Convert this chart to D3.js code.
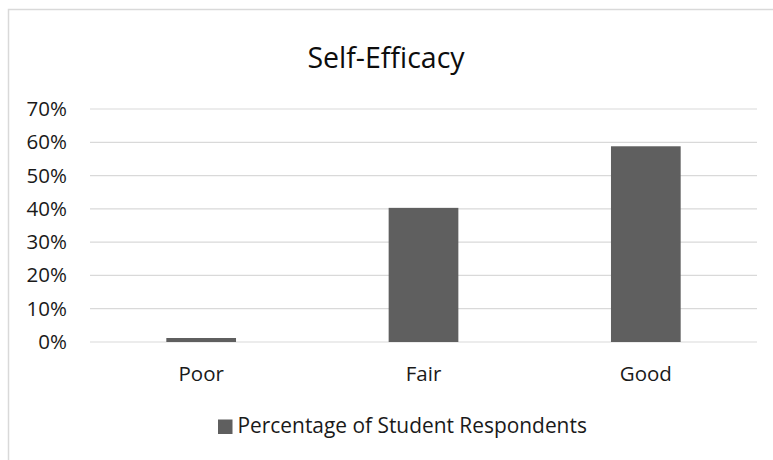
<!DOCTYPE html>
<html>
<head>
<meta charset="utf-8">
<script src="https://cdn.jsdelivr.net/npm/d3@7"></script>
<style>
  body { margin: 0; background: #fff; }
  text { font-family: "Open Sans", sans-serif; }
</style>
</head>
<body>
<div id="chart"></div>
<script>
const title = "Self-Efficacy";
const categories = ["Poor", "Fair", "Good"];
const values = [0.012, 0.403, 0.588];
const yTicks = [0, 0.1, 0.2, 0.3, 0.4, 0.5, 0.6, 0.7];
const seriesName = "Percentage of Student Respondents";

const W = 773, H = 460;
const margin = { top: 109, right: 16, bottom: 118, left: 90 },
      width = W - margin.left - margin.right,
      height = H - margin.top - margin.bottom;

const svg = d3.select("#chart")
    .append("svg")
    .attr("width", W)
    .attr("height", H);

// chart border (runs off the right/bottom edge like the screenshot)
svg.append("rect")
    .attr("x", 8.5).attr("y", 9.5)
    .attr("width", W + 20).attr("height", H + 20)
    .attr("fill", "#fff")
    .attr("stroke", "#d9d9d9")
    .attr("stroke-width", 1.5);

const g = svg.append("g")
    .attr("transform", `translate(${margin.left},${margin.top})`);

const x = d3.scaleBand()
    .domain(categories)
    .range([0, width])
    .paddingInner(0.6865)
    .paddingOuter(0.3433);

const y = d3.scaleLinear()
    .domain([0, 0.7])
    .range([height, 0]);

// gridlines
g.append("g")
    .selectAll("line")
    .data(yTicks)
    .join("line")
    .attr("x1", 0).attr("x2", width)
    .attr("y1", d => y(d)).attr("y2", d => y(d))
    .attr("stroke", "#d9d9d9")
    .attr("stroke-width", 1.2);

// y axis labels
const yAxis = g.append("g")
    .call(d3.axisLeft(y).tickValues(yTicks).tickFormat(d3.format(".0%")).tickSize(0).tickPadding(23));
yAxis.select(".domain").remove();
yAxis.selectAll("text")
    .style("font-size", "20.5px")
    .style("font-family", "'Open Sans', sans-serif")
    .attr("fill", "#1a1a1a");

// bars
g.selectAll("rect.bar")
    .data(values)
    .join("rect")
    .attr("class", "bar")
    .attr("x", (d, i) => x(categories[i]))
    .attr("width", x.bandwidth())
    .attr("y", d => y(d))
    .attr("height", d => y(0) - y(d))
    .attr("fill", "#5f5f5f");

// x axis labels
const xAxis = g.append("g")
    .attr("transform", `translate(0,${height})`)
    .call(d3.axisBottom(x).tickSize(0).tickPadding(24));
xAxis.select(".domain").remove();
xAxis.selectAll("text")
    .style("font-size", "20.5px")
    .style("font-family", "'Open Sans', sans-serif")
    .attr("fill", "#1a1a1a");

// title
svg.append("text")
    .attr("x", 386)
    .attr("y", 68)
    .attr("text-anchor", "middle")
    .style("font-size", "28.5px")
    .attr("fill", "#0d0d0d")
    .text(title);

// legend
const legend = svg.append("g")
    .attr("transform", "translate(218, 419.5)");
legend.append("rect")
    .attr("width", 14.5).attr("height", 14.5)
    .attr("fill", "#5f5f5f");
legend.append("text")
    .attr("x", 19.5).attr("y", 13)
    .style("font-size", "20.9px")
    .attr("fill", "#1a1a1a")
    .text(seriesName);
</script>
</body>
</html>
